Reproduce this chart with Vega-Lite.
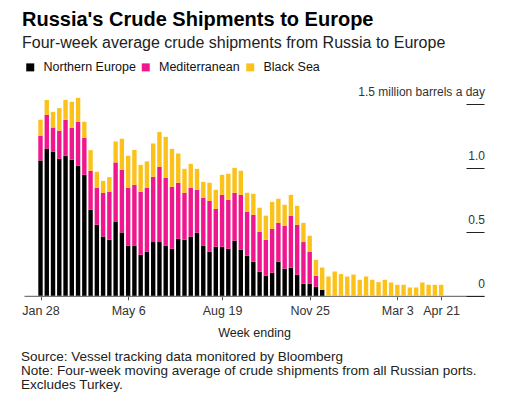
{
  "$schema": "https://vega.github.io/schema/vega-lite/v6.json",
  "padding": {"left": 21, "top": 10, "right": 5, "bottom": 5},
  "bounds": "flush",
  "background": "white",
  "title": {
    "text": "Russia's Crude Shipments to Europe",
    "subtitle": "Four-week average crude shipments from Russia to Europe",
    "anchor": "start",
    "frame": "group",
    "dx": -2,
    "font": "Liberation Sans",
    "fontSize": 20,
    "fontWeight": "bold",
    "color": "#000000",
    "subtitleFont": "Liberation Sans",
    "subtitleFontSize": 16,
    "subtitleColor": "#222222",
    "subtitlePadding": 5,
    "offset": 10
  },
  "vconcat": [
    {
      "width": 460,
      "height": 204.8,
      "title": {
        "text": [
          "Source: Vessel tracking data monitored by Bloomberg",
          "Note: Four-week moving average of crude shipments from all Russian ports.",
          "Excludes Turkey."
        ],
        "orient": "bottom",
        "anchor": "start",
        "frame": "group",
        "dx": -3,
        "font": "Liberation Sans",
        "fontSize": 13.5,
        "fontWeight": "normal",
        "color": "#222222",
        "lineHeight": 14.3,
        "offset": 11
      },
      "data": {
        "values": [
          {"week": "2022-01-28", "Northern Europe": 1.057, "Mediterranean": 0.193, "Black Sea": 0.125},
          {"week": "2022-02-04", "Northern Europe": 1.148, "Mediterranean": 0.266, "Black Sea": 0.116},
          {"week": "2022-02-11", "Northern Europe": 1.125, "Mediterranean": 0.19, "Black Sea": 0.122},
          {"week": "2022-02-18", "Northern Europe": 1.07, "Mediterranean": 0.22, "Black Sea": 0.176},
          {"week": "2022-02-25", "Northern Europe": 1.094, "Mediterranean": 0.281, "Black Sea": 0.155},
          {"week": "2022-03-04", "Northern Europe": 1.063, "Mediterranean": 0.25, "Black Sea": 0.203},
          {"week": "2022-03-11", "Northern Europe": 1.016, "Mediterranean": 0.344, "Black Sea": 0.187},
          {"week": "2022-03-18", "Northern Europe": 0.945, "Mediterranean": 0.289, "Black Sea": 0.126},
          {"week": "2022-03-25", "Northern Europe": 0.672, "Mediterranean": 0.305, "Black Sea": 0.161},
          {"week": "2022-04-01", "Northern Europe": 0.555, "Mediterranean": 0.289, "Black Sea": 0.125},
          {"week": "2022-04-08", "Northern Europe": 0.463, "Mediterranean": 0.342, "Black Sea": 0.093},
          {"week": "2022-04-15", "Northern Europe": 0.438, "Mediterranean": 0.375, "Black Sea": 0.114},
          {"week": "2022-04-22", "Northern Europe": 0.581, "Mediterranean": 0.461, "Black Sea": 0.164},
          {"week": "2022-04-29", "Northern Europe": 0.495, "Mediterranean": 0.489, "Black Sea": 0.243},
          {"week": "2022-05-06", "Northern Europe": 0.39, "Mediterranean": 0.454, "Black Sea": 0.25},
          {"week": "2022-05-13", "Northern Europe": 0.39, "Mediterranean": 0.477, "Black Sea": 0.273},
          {"week": "2022-05-20", "Northern Europe": 0.32, "Mediterranean": 0.492, "Black Sea": 0.211},
          {"week": "2022-05-27", "Northern Europe": 0.344, "Mediterranean": 0.5, "Black Sea": 0.206},
          {"week": "2022-06-03", "Northern Europe": 0.42, "Mediterranean": 0.51, "Black Sea": 0.26},
          {"week": "2022-06-10", "Northern Europe": 0.42, "Mediterranean": 0.588, "Black Sea": 0.272},
          {"week": "2022-06-17", "Northern Europe": 0.39, "Mediterranean": 0.532, "Black Sea": 0.32},
          {"week": "2022-06-24", "Northern Europe": 0.367, "Mediterranean": 0.485, "Black Sea": 0.296},
          {"week": "2022-07-01", "Northern Europe": 0.445, "Mediterranean": 0.438, "Black Sea": 0.229},
          {"week": "2022-07-08", "Northern Europe": 0.438, "Mediterranean": 0.367, "Black Sea": 0.187},
          {"week": "2022-07-15", "Northern Europe": 0.461, "Mediterranean": 0.383, "Black Sea": 0.187},
          {"week": "2022-07-22", "Northern Europe": 0.492, "Mediterranean": 0.336, "Black Sea": 0.164},
          {"week": "2022-07-29", "Northern Europe": 0.39, "Mediterranean": 0.376, "Black Sea": 0.124},
          {"week": "2022-08-05", "Northern Europe": 0.344, "Mediterranean": 0.398, "Black Sea": 0.141},
          {"week": "2022-08-12", "Northern Europe": 0.383, "Mediterranean": 0.297, "Black Sea": 0.148},
          {"week": "2022-08-19", "Northern Europe": 0.383, "Mediterranean": 0.406, "Black Sea": 0.156},
          {"week": "2022-08-26", "Northern Europe": 0.367, "Mediterranean": 0.383, "Black Sea": 0.203},
          {"week": "2022-09-02", "Northern Europe": 0.43, "Mediterranean": 0.375, "Black Sea": 0.195},
          {"week": "2022-09-09", "Northern Europe": 0.359, "Mediterranean": 0.43, "Black Sea": 0.188},
          {"week": "2022-09-16", "Northern Europe": 0.313, "Mediterranean": 0.343, "Black Sea": 0.149},
          {"week": "2022-09-23", "Northern Europe": 0.266, "Mediterranean": 0.367, "Black Sea": 0.164},
          {"week": "2022-09-30", "Northern Europe": 0.188, "Mediterranean": 0.312, "Black Sea": 0.188},
          {"week": "2022-10-07", "Northern Europe": 0.156, "Mediterranean": 0.282, "Black Sea": 0.188},
          {"week": "2022-10-14", "Northern Europe": 0.18, "Mediterranean": 0.343, "Black Sea": 0.211},
          {"week": "2022-10-21", "Northern Europe": 0.266, "Mediterranean": 0.304, "Black Sea": 0.188},
          {"week": "2022-10-28", "Northern Europe": 0.211, "Mediterranean": 0.336, "Black Sea": 0.164},
          {"week": "2022-11-04", "Northern Europe": 0.219, "Mediterranean": 0.406, "Black Sea": 0.164},
          {"week": "2022-11-11", "Northern Europe": 0.164, "Mediterranean": 0.391, "Black Sea": 0.148},
          {"week": "2022-11-18", "Northern Europe": 0.094, "Mediterranean": 0.326, "Black Sea": 0.15},
          {"week": "2022-11-25", "Northern Europe": 0.094, "Mediterranean": 0.25, "Black Sea": 0.125},
          {"week": "2022-12-02", "Northern Europe": 0.07, "Mediterranean": 0.086, "Black Sea": 0.125},
          {"week": "2022-12-09", "Northern Europe": 0.047, "Mediterranean": 0, "Black Sea": 0.174},
          {"week": "2022-12-16", "Northern Europe": 0, "Mediterranean": 0, "Black Sea": 0.151},
          {"week": "2022-12-23", "Northern Europe": 0, "Mediterranean": 0, "Black Sea": 0.19},
          {"week": "2022-12-30", "Northern Europe": 0, "Mediterranean": 0, "Black Sea": 0.17},
          {"week": "2023-01-06", "Northern Europe": 0, "Mediterranean": 0, "Black Sea": 0.151},
          {"week": "2023-01-13", "Northern Europe": 0, "Mediterranean": 0, "Black Sea": 0.166},
          {"week": "2023-01-20", "Northern Europe": 0, "Mediterranean": 0, "Black Sea": 0.125},
          {"week": "2023-01-27", "Northern Europe": 0, "Mediterranean": 0, "Black Sea": 0.151},
          {"week": "2023-02-03", "Northern Europe": 0, "Mediterranean": 0, "Black Sea": 0.125},
          {"week": "2023-02-10", "Northern Europe": 0, "Mediterranean": 0, "Black Sea": 0.107},
          {"week": "2023-02-17", "Northern Europe": 0, "Mediterranean": 0, "Black Sea": 0.125},
          {"week": "2023-02-24", "Northern Europe": 0, "Mediterranean": 0, "Black Sea": 0.104},
          {"week": "2023-03-03", "Northern Europe": 0, "Mediterranean": 0, "Black Sea": 0.086},
          {"week": "2023-03-10", "Northern Europe": 0, "Mediterranean": 0, "Black Sea": 0.086},
          {"week": "2023-03-17", "Northern Europe": 0, "Mediterranean": 0, "Black Sea": 0.065},
          {"week": "2023-03-24", "Northern Europe": 0, "Mediterranean": 0, "Black Sea": 0.065},
          {"week": "2023-03-31", "Northern Europe": 0, "Mediterranean": 0, "Black Sea": 0.104},
          {"week": "2023-04-07", "Northern Europe": 0, "Mediterranean": 0, "Black Sea": 0.086},
          {"week": "2023-04-14", "Northern Europe": 0, "Mediterranean": 0, "Black Sea": 0.086},
          {"week": "2023-04-21", "Northern Europe": 0, "Mediterranean": 0, "Black Sea": 0.086}
        ]
      },
      "transform": [
        {"fold": ["Northern Europe", "Mediterranean", "Black Sea"], "as": ["region", "value"]}
      ],
      "mark": {"type": "bar", "width": 4.4, "stroke": null},
      "encoding": {
        "x": {
          "field": "week",
          "type": "temporal",
          "scale": {
            "type": "utc",
            "nice": false,
            "padding": 0,
            "domain": [
              {"year": 2022, "month": 1, "date": 9, "hours": 13, "utc": true},
              {"year": 2023, "month": 6, "date": 7, "hours": 22, "utc": true}
            ]
          },
          "axis": {
            "title": "Week ending",
            "values": [
              {"year": 2022, "month": 1, "date": 28, "utc": true},
              {"year": 2022, "month": 5, "date": 6, "utc": true},
              {"year": 2022, "month": 8, "date": 19, "utc": true},
              {"year": 2022, "month": 11, "date": 25, "utc": true},
              {"year": 2023, "month": 3, "date": 3, "utc": true},
              {"year": 2023, "month": 4, "date": 21, "utc": true}
            ],
            "labelExpr": "utcFormat(datum.value, '%b %-d')",
            "grid": false,
            "domainColor": "#777777",
            "domainWidth": 1.2,
            "tickColor": "#555555",
            "tickSize": 4,
            "labelPadding": 5,
            "labelFont": "Liberation Sans",
            "labelFontSize": 12.5,
            "labelColor": "#333333",
            "labelFlush": false,
            "labelOverlap": false,
            "titleFont": "Liberation Sans",
            "titleFontSize": 12.5,
            "titleFontWeight": "normal",
            "titleColor": "#222222",
            "titlePadding": 9
          }
        },
        "y": {
          "field": "value",
          "type": "quantitative",
          "stack": "zero",
          "scale": {"domain": [0, 1.6], "nice": false, "zero": true},
          "axis": {
            "orient": "right",
            "offset": -18,
            "title": null,
            "values": [0, 0.5, 1, 1.5],
            "labelExpr": "datum.value == 1.5 ? '1.5 million barrels a day' : datum.value == 0 ? '0' : format(datum.value, '.1f')",
            "domain": false,
            "grid": false,
            "tickSize": 18,
            "tickColor": "#222222",
            "tickWidth": 1,
            "labelAlign": "right",
            "labelBaseline": "alphabetic",
            "labelOffset": -8,
            "labelPadding": 0.5,
            "labelFont": "Liberation Sans",
            "labelFontSize": 12,
            "labelColor": "#333333",
            "labelFlush": false,
            "labelOverlap": false
          }
        },
        "color": {
          "field": "region",
          "type": "nominal",
          "scale": {
            "domain": ["Northern Europe", "Mediterranean", "Black Sea"],
            "range": ["#000000", "#f0168e", "#fcc21c"]
          },
          "legend": {
            "orient": "top",
            "direction": "horizontal",
            "title": null,
            "symbolType": "square",
            "symbolSize": 64,
            "symbolStrokeWidth": 0,
            "labelFont": "Liberation Sans",
            "labelFontSize": 12.5,
            "labelColor": "#111111",
            "labelOffset": 7,
            "columnPadding": 3.5,
            "padding": 0,
            "offset": 11
          }
        },
        "order": {"field": "region", "sort": "descending"}
      }
    }
  ],
  "config": {
    "view": {"stroke": null},
    "font": "Liberation Sans"
  }
}
